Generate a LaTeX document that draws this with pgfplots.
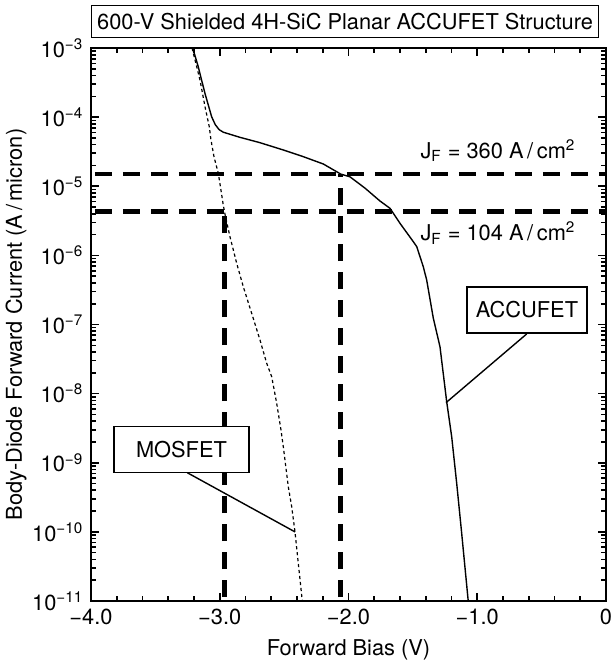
\documentclass[border=0pt]{standalone}
\usepackage{pgfplots}
\pgfplotsset{compat=1.18}
\usepackage{fontspec}
\setmainfont{TeX Gyre Heros}
\begin{document}
\fontsize{10.9}{13}\selectfont
\begin{tikzpicture}
\begin{axis}[
  width=257.5pt, height=276.5pt, scale only axis,
  ymode=log,
  xmin=-4, xmax=0, ymin=1e-11, ymax=1e-3,
  xtick={-4,-3,-2,-1,0},
  xticklabels={−4.0,−3.0,−2.0,−1.0,0},
  minor x tick num=4,
  ytick={1e-11,1e-10,1e-9,1e-8,1e-7,1e-6,1e-5,1e-4,1e-3},
  yticklabels={10\textsuperscript{−11},10\textsuperscript{−10},10\textsuperscript{−9},10\textsuperscript{−8},10\textsuperscript{−7},10\textsuperscript{−6},10\textsuperscript{−5},10\textsuperscript{−4},10\textsuperscript{−3}},
  minor ytick={2e-11,3e-11,4e-11,5e-11,6e-11,7e-11,8e-11,9e-11,
    2e-10,3e-10,4e-10,5e-10,6e-10,7e-10,8e-10,9e-10,
    2e-9,3e-9,4e-9,5e-9,6e-9,7e-9,8e-9,9e-9,
    2e-8,3e-8,4e-8,5e-8,6e-8,7e-8,8e-8,9e-8,
    2e-7,3e-7,4e-7,5e-7,6e-7,7e-7,8e-7,9e-7,
    2e-6,3e-6,4e-6,5e-6,6e-6,7e-6,8e-6,9e-6,
    2e-5,3e-5,4e-5,5e-5,6e-5,7e-5,8e-5,9e-5,
    2e-4,3e-4,4e-4,5e-4,6e-4,7e-4,8e-4,9e-4},
  tick align=inside,
  major tick length=4pt, minor tick length=2.5pt,
  every tick/.style={line width=0.8pt, black},
  axis line style={line width=1pt},
  xlabel={Forward Bias (V)},
  ylabel={Body-Diode Forward Current (A\,/\,micron)},
  xlabel style={at={(axis description cs:0.5,0)}, anchor=center, yshift=-24.5pt},
  ylabel style={at={(axis description cs:-0.1456,0.5)}, anchor=center},
  clip=false,
]
% ACCUFET (solid)
\addplot[black, line width=0.7pt] coordinates {
(-3.21,1e-3) (-3.167,5.37e-4) (-3.115,2.21e-4) (-3.0626,1.01e-4) (-3.035,7.8e-5)
(-3.005,6.6e-5) (-2.9724,6.05e-5) (-2.8427,5.1e-5) (-2.6874,4.27e-5) (-2.5064,3.35e-5) (-2.3511,2.68e-5)
(-2.1957,2.1e-5) (-2.06,1.5e-5) (-1.9883,1.37e-5) (-1.872,9.4e-6) (-1.7553,6.12e-6) (-1.6777,4.8e-6)
(-1.60,2.91e-6) (-1.4967,1.58e-6) (-1.470,1.34e-6) (-1.419,6.86e-7) (-1.3926,4.4e-7)
(-1.3414,1.24e-7) (-1.2893,4.77e-8) (-1.2373,7.64e-9) (-1.1984,2.38e-9) (-1.1596,5.05e-10)
(-1.1208,9.55e-11) (-1.07,1e-11)
};
% MOSFET (fine dashed)
\addplot[black, line width=0.6pt, dash pattern=on 1.6pt off 1.4pt] coordinates {
(-3.215,1e-3) (-3.1534,3.44e-4) (-3.1146,1.42e-4) (-3.0812,7.26e-5) (-3.068,4.67e-5)
(-3.0447,2.68e-5) (-3.0113,1.54e-5) (-2.9926,9.33e-6) (-2.9724,5.3e-6) (-2.955,3.6e-6)
(-2.9204,1.86e-6) (-2.8683,7.67e-7) (-2.8171,3.52e-7) (-2.7518,1.45e-7) (-2.6874,5.97e-8)
(-2.6353,2.75e-8) (-2.5965,1.76e-8) (-2.5577,7.25e-9) (-2.5243,2.98e-9) (-2.5064,1.71e-9)
(-2.4676,4.51e-10) (-2.4412,2.32e-10) (-2.4155,1.0e-10) (-2.3899,3.51e-11) (-2.3588,1e-11)
};
% reference dashed lines
\addplot[black, line width=2.4pt, dash pattern=on 8.5pt off 5.5pt, dash phase=12pt] coordinates {(-4,1.5e-5) (0,1.5e-5)};
\addplot[black, line width=2.4pt, dash pattern=on 8.5pt off 5.5pt, dash phase=12pt] coordinates {(-4,4.33e-6) (0,4.33e-6)};
\addplot[black, line width=2.4pt, dash pattern=on 8.5pt off 5.5pt, dash phase=12pt] coordinates {(-2.965,1e-11) (-2.965,4.33e-6)};
\addplot[black, line width=2.4pt, dash pattern=on 8.5pt off 5.5pt, dash phase=12pt] coordinates {(-2.06,1e-11) (-2.06,1.5e-5)};
% annotations
\node[anchor=base] at (axis cs:-0.839,2.56e-5) {J\textsubscript{F} = 360 A\,/\,cm\textsuperscript{2}};
\node[anchor=base] at (axis cs:-0.839,1.63e-6) {J\textsubscript{F} = 104 A\,/\,cm\textsuperscript{2}};
\draw[line width=0.7pt] (axis cs:-0.616,7.3e-8) -- (axis cs:-1.2427,7.4e-9);
\node[draw, line width=0.6pt, fill=white, minimum width=60pt, minimum height=23pt, inner sep=0pt] at (axis cs:-0.6136,1.62e-7) {ACCUFET};
\draw[line width=0.7pt] (axis cs:-3.252,7.18e-10) -- (axis cs:-2.4155,1.0e-10);
\node[draw, line width=0.6pt, fill=white, minimum width=67.5pt, minimum height=23pt, inner sep=0pt] at (axis cs:-3.297,1.55e-9) {MOSFET};
\node[draw, line width=0.6pt, anchor=south west, minimum width=253.5pt, minimum height=16pt, inner sep=0pt] at ([yshift=5pt]rel axis cs:0,1) {600-V Shielded 4H-SiC Planar ACCUFET Structure};
\coordinate (ll) at (rel axis cs:0,0);
\coordinate (ur) at (rel axis cs:1,1);
\end{axis}
\pgfresetboundingbox
\path ([xshift=-45.5pt,yshift=-33pt]ll) rectangle ([xshift=3.5pt,yshift=24pt]ur);
\end{tikzpicture}
\end{document}
